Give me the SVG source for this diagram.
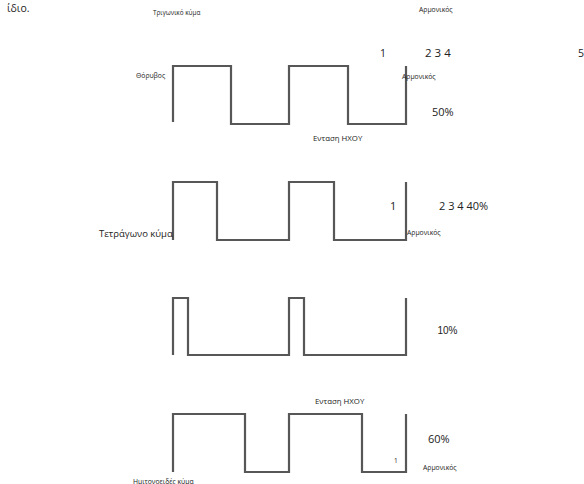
<svg xmlns="http://www.w3.org/2000/svg" width="584" height="484" viewBox="0 0 584 484">
<style>
.w{fill:none;stroke:#575757;stroke-width:2.2;stroke-linejoin:miter}
text{font-family:"Open Sans","Noto Sans","DejaVu Sans",sans-serif;fill:#222}
.s{font-size:6.8px}
.m{font-size:7.8px}
.l{font-size:10.5px}
.a{font-family:"Liberation Sans",Arial,sans-serif}
</style>
<rect width="584" height="484" fill="#fff"/>
<g id="labels-top">
<text x="7" y="11.5" style="font-size:10.5px">ίδιο.</text>
<text x="153" y="15" class="s" style="font-size:6.4px">Τριγωνικό κύμα</text>
<text x="419" y="12" class="s">Αρμονικός</text>
<text x="380" y="57" class="l">1</text>
<text x="425" y="57" style="font-size:11.5px">2 3 4</text>
<text x="578" y="57" class="l">5</text>
</g>
<g id="wave-50">
<path class="w" d="M173,122 V66 H231 V124 H289 V66 H348 V124 H406 V66"/>
<text x="136" y="78" class="s">Θόρυβος</text>
<text x="402" y="79" class="s">Αρμονικός</text>
<text x="432" y="116" class="l" style="font-size:11px">50%</text>
<text x="313" y="141" class="m">Ενταση ΗΧΟΥ</text>
</g>
<g id="wave-40">
<path class="w" d="M173,240 V182 H217 V240 H289 V182 H334 V240 H406 V182"/>
<text x="390" y="210" class="l" style="font-size:11px">1</text>
<text x="439" y="210" class="l" style="font-size:11px">2 3 4 40%</text>
<text x="99" y="237" style="font-size:9.5px">Τετράγωνο κύμα</text>
<text x="407" y="235" class="s">Αρμονικός</text>
</g>
<g id="wave-10">
<path class="w" d="M173,355 V298 H188 V355 H289 V298 H304 V355 H406 V298"/>
<text x="437.5" y="334" class="a" style="font-size:10px">10%</text>
</g>
<g id="wave-60">
<path class="w" d="M173,472 V414 H245 V472 H289 V414 H362 V472 H406 V414"/>
<text x="315" y="404" class="m">Ενταση ΗΧΟΥ</text>
<text x="394" y="463" style="font-size:6.5px">1</text>
<text x="428" y="443" class="l" style="font-size:11px">60%</text>
<text x="133" y="483.5" class="s">Ημιτονοειδές κύμα</text>
<text x="423" y="470" class="s">Αρμονικός</text>
</g>
</svg>
